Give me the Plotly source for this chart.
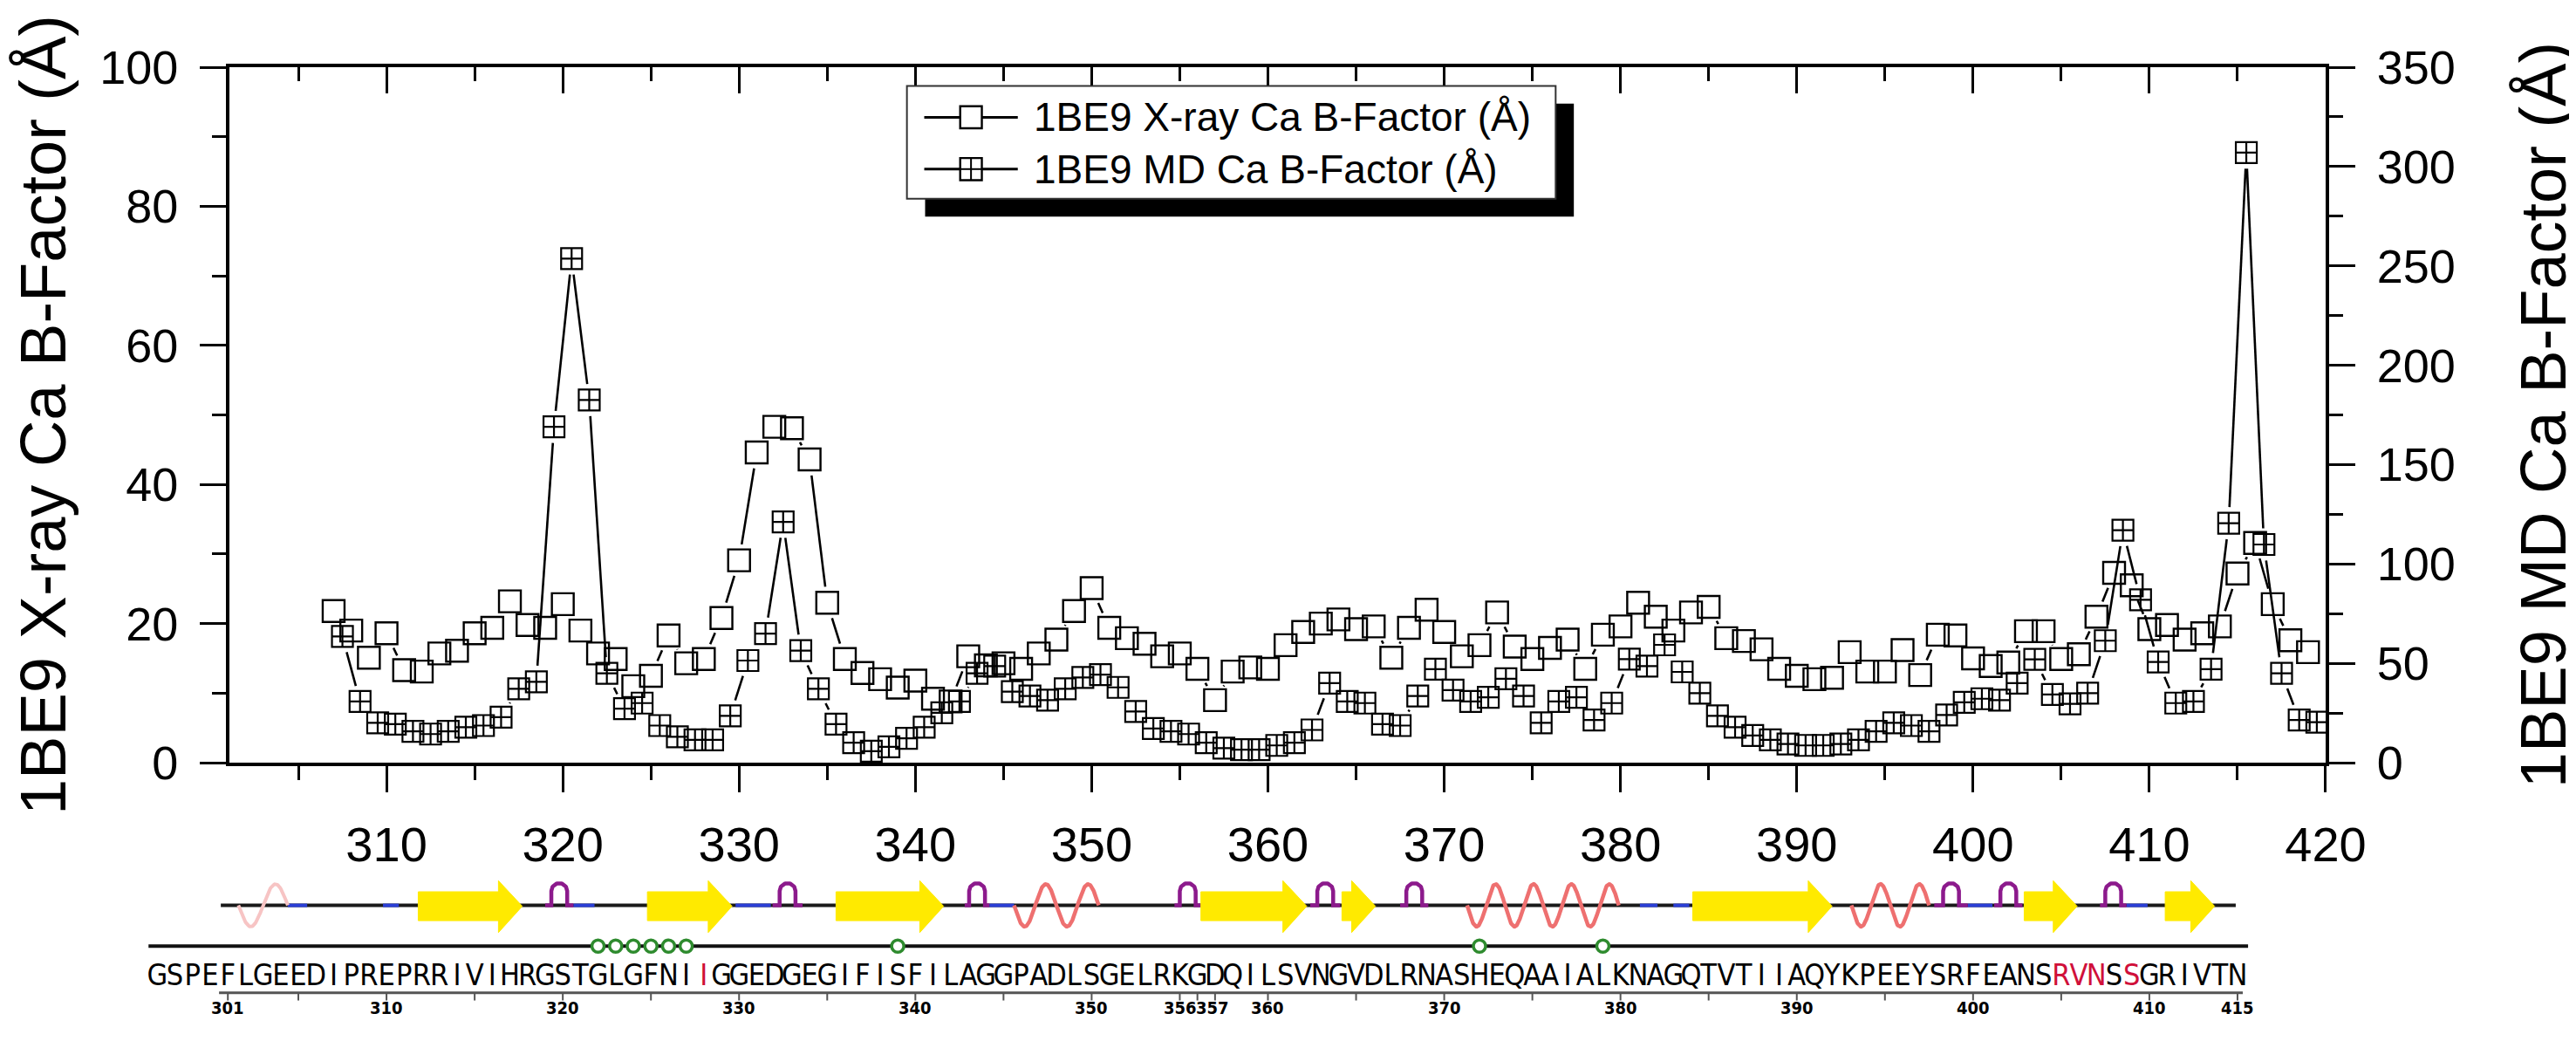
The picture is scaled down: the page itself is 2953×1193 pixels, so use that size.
import math
import numpy as np
import plotly.graph_objects as go

# ---------------- data ----------------
residues = list(range(307, 420))
xray_b = [21.8, 19.0, 15.1, 18.6, 13.3, 13.1, 15.7, 16.1, 18.6, 19.4,   # 307-316
          23.2, 19.8, 19.4, 22.8, 19.0, 15.7, 14.9, 11.0, 12.5, 18.3,   # 317-326
          14.3, 14.9, 20.8, 29.1, 44.6, 48.3, 48.1, 43.6, 23.0, 14.9,   # 327-336
          12.9, 12.0, 10.8, 11.8, 9.2, 8.8, 15.3, 14.0, 14.3, 13.5,     # 337-346
          15.7, 17.7, 21.8, 25.1, 19.4, 17.9, 17.1, 15.3, 15.7, 13.5,   # 347-356
          9.0, 13.1, 13.7, 13.5, 16.9, 18.8, 20.0, 20.6, 19.2, 19.6,    # 357-366
          15.1, 19.4, 22.0, 18.8, 15.3, 16.9, 21.6, 16.7, 14.9, 16.5,   # 367-376
          17.7, 13.5, 18.4, 19.6, 23.0, 21.0, 19.0, 21.6, 22.4, 17.9,   # 377-386
          17.5, 16.3, 13.5, 12.5, 12.0, 12.2, 15.9, 13.1, 13.1, 16.2,   # 387-396
          12.6, 18.4, 18.3, 15.0, 13.9, 14.4, 18.9, 18.9, 14.9, 15.6,   # 397-406
          21.0, 27.3, 25.5, 19.2, 19.8, 17.7, 18.6, 19.6, 27.2, 31.6,   # 407-416
          22.8, 17.6, 15.9]                                             # 417-419

md_residues = [r + 0.5 for r in residues]
md_b = [63.5, 30.8, 20.1, 19.4, 15.8, 14.4, 15.8, 17.9, 18.7, 22.9,
        37.2, 40.7, 169.0, 253.7, 182.5, 45.0, 27.2, 30.0, 18.7, 13.0,
        11.5, 11.5, 23.6, 51.4, 65.0, 121.2, 56.4, 37.2, 19.4, 10.1,
        5.8, 8.0, 12.3, 17.9, 25.1, 30.8, 45.0, 48.6, 35.8, 33.6,
        31.5, 37.2, 42.9, 44.3, 37.9, 25.8, 17.2, 15.8, 14.4, 10.1,
        7.3, 6.6, 6.6, 8.7, 10.1, 16.5, 40.0, 30.8, 30.0, 19.4,
        18.7, 33.6, 47.1, 36.5, 30.8, 32.9, 42.2, 33.6, 20.1, 30.8,
        32.9, 21.5, 30.0, 52.1, 48.6, 59.3, 45.7, 35.0, 23.6, 17.9,
        13.7, 11.5, 9.4, 8.7, 8.7, 9.4, 11.5, 15.8, 20.1, 18.7,
        15.8, 24.0, 30.4, 32.2, 31.5, 40.0, 52.0, 34.3, 29.6, 35.0,
        61.4, 117.0, 82.0, 50.7, 30.0, 30.8, 47.1, 120.5, 307.0, 109.8,
        45.0, 21.5, 20.4]

xray_name = "1BE9 X-ray Ca B-Factor (Å)"
md_name = "1BE9 MD Ca B-Factor (Å)"

x_tick_vals = list(range(310, 421, 10))
left_tick_vals = [0, 20, 40, 60, 80, 100]
right_tick_vals = [0, 50, 100, 150, 200, 250, 300, 350]

# sequence / secondary-structure strip
seq_chunks = ["GSPEFLGEED", "IPREPRRIVI", "HRGSTGLGFN", "IIGGEDGEGI",
              "FISFILAGGP", "ADLSGELRKG", "DQILSVNGVD", "LRNASHEQAA",
              "IALKNAGQTV", "TIIAQYKPEE", "YSRFEANSRV", "NSSGRIVTN"]
sequence = "".join(seq_chunks)
seq_first_residue = 297
red_residues = [328, 405, 406, 407, 409]
backbone_span = (300.6, 414.9)
contact_line_span = (296.5, 415.6)
strands = [(311.8, 317.7), (324.8, 329.6), (335.5, 341.6), (356.2, 362.2),
           (364.2, 366.1), (384.1, 392.0), (402.9, 405.9), (410.9, 413.7)]
helices = [(345.6, 350.4), (371.3, 379.9), (393.1, 397.5)]
faint_helices = [(301.6, 304.4)]
turns = [(319.0, 320.6), (331.9, 333.6), (342.8, 344.2), (354.7, 356.2),
         (362.4, 364.1), (367.5, 369.1), (397.8, 399.7), (401.2, 402.8),
         (407.2, 408.7)]
blue_segments = [(304.4, 305.5), (309.8, 310.7), (320.6, 321.8), (329.8, 331.8),
                 (344.2, 345.6), (381.1, 382.1), (383.0, 383.9), (399.7, 401.1),
                 (408.7, 409.9)]
binding_residues = [322, 323, 324, 325, 326, 327, 339, 372, 379]
ruler_span = (300.5, 415.3)
ruler_ticks = list(range(305, 416, 5)) + [301, 356, 357]
ruler_labels = [301, 310, 320, 330, 340, 350, 356, 357, 360, 370, 380, 390, 400, 410, 415]
ruler_label_shift = {356: -20, 357: -3}

# ---------------- geometry / style ----------------
W, H = 2953, 1193          # reference picture size
PAGE_OFF = 4               # small allowance for the html page offset
ML, MR, MT, MB = 150, 273, 73, 0   # in reference pixels
PW, PH = W - ML - MR, H - MT - MB
AX_L, AX_R, AX_T, AX_B = 260, 2680, 73, 892
X_RANGE = [301.1, 420]
Y_RANGE = [0, 100]
Y2_RANGE = [0, 350]
sx = (AX_R - AX_L) / (X_RANGE[1] - X_RANGE[0])
sy_left = (AX_B - AX_T) / (Y_RANGE[1] - Y_RANGE[0])
sy_right = (AX_B - AX_T) / (Y2_RANGE[1] - Y2_RANGE[0])
x_dom0 = (AX_L - ML) / PW
y_dom0 = (H - MB - AX_B) / PH
STRIP_TOP = 1000
strip_dom1 = (H - MB - STRIP_TOP) / PH
x3_lo = X_RANGE[0] - (AX_L - ML) / sx

FONT = "Liberation Sans, Arial, sans-serif"
NARROW = "Liberation Sans Narrow, Arial Narrow, DejaVu Sans Condensed, Liberation Sans, sans-serif"
BACK_Y = 1060
CONTACT_Y = 1108
SEQ_Y = 1145
RULER_Y = 1163
RULER_LABEL_Y = 1181
GAP = 19  # px gap between line and symbol


def px2paper_x(p):
    return (p - ML) / PW


def px2paper_y(p):
    return (H - MB - p) / PH


def gapped(xs, ys, sy, gap=GAP):
    ox, oy = [], []
    for i in range(len(xs) - 1):
        x0, y0, x1, y1 = xs[i], ys[i], xs[i + 1], ys[i + 1]
        dx, dy = (x1 - x0) * sx, (y1 - y0) * sy
        L = math.hypot(dx, dy)
        if L <= 2 * gap:
            continue
        f = gap / L
        ox += [x0 + (x1 - x0) * f, x1 - (x1 - x0) * f, None]
        oy += [y0 + (y1 - y0) * f, y1 - (y1 - y0) * f, None]
    return ox, oy


fig = go.Figure()

# ---- main data ----
lx, ly = gapped(residues, xray_b, sy_left)
fig.add_trace(go.Scatter(x=lx, y=ly, mode="lines", line=dict(color="black", width=2.6),
                         xaxis="x", yaxis="y", hoverinfo="skip", showlegend=False))
mx, my = gapped(md_residues, md_b, sy_right)
fig.add_trace(go.Scatter(x=mx, y=my, mode="lines", line=dict(color="black", width=2.6),
                         xaxis="x", yaxis="y2", hoverinfo="skip", showlegend=False))
fig.add_trace(go.Scatter(x=residues, y=xray_b, mode="markers", name=xray_name,
                         marker=dict(symbol="square-open", size=25, color="black",
                                     line=dict(width=2.4, color="black")),
                         xaxis="x", yaxis="y", showlegend=False))
fig.add_trace(go.Scatter(x=md_residues, y=md_b, mode="markers", name=md_name,
                         marker=dict(symbol="square-cross-open", size=24, color="black",
                                     line=dict(width=2.2, color="black")),
                         xaxis="x", yaxis="y2", showlegend=False))
# dummy trace so that the top mirror axis is drawn
fig.add_trace(go.Scatter(x=[X_RANGE[0]], y=[None], mode="markers", xaxis="x2", yaxis="y",
                         hoverinfo="skip", showlegend=False, marker=dict(opacity=0)))

# ---- secondary structure strip (x3 / y3) ----
strip = dict(xaxis="x3", yaxis="y3", hoverinfo="skip", showlegend=False)

fig.add_trace(go.Scatter(x=list(backbone_span), y=[BACK_Y, BACK_Y], mode="lines",
                         line=dict(color="#1a1a1a", width=4), **strip))
bx, by = [], []
for a, b in blue_segments:
    bx += [a, b, None]
    by += [BACK_Y, BACK_Y, None]
fig.add_trace(go.Scatter(x=bx, y=by, mode="lines", line=dict(color="#2b3fd6", width=4), **strip))


def wave(spans):
    xs, ys = [], []
    for a, b in spans:
        n = max(1, round((b - a) / 2.2))
        t = np.linspace(0, 1, 80 * n)
        xs += list(a + (b - a) * t) + [None]
        ys += list(BACK_Y + 25 * np.sin(2 * np.pi * n * t)) + [None]
    return xs, ys


hx, hy = wave(faint_helices)
fig.add_trace(go.Scatter(x=hx, y=hy, mode="lines", line=dict(color="#f7c4c4", width=4), **strip))
hx, hy = wave(helices)
fig.add_trace(go.Scatter(x=hx, y=hy, mode="lines", line=dict(color="#ee7070", width=4.5), **strip))

tx, ty = [], []
for a, b in turns:
    c = 0.5 * (a + b)
    hw = 0.45
    r_px = hw * sx
    top_c = BACK_Y - 26 + r_px
    th = np.linspace(0, np.pi, 30)
    tx += [a, c - hw, c - hw] + list(c - hw * np.cos(th)) + [c + hw, c + hw, b, None]
    ty += [BACK_Y, BACK_Y, top_c] + list(top_c - r_px * np.sin(th)) + [top_c, BACK_Y, BACK_Y, None]
fig.add_trace(go.Scatter(x=tx, y=ty, mode="lines", line=dict(color="#8c1a8c", width=4.5), **strip))

ax_, ay_ = [], []
HEAD = 1.35
for a, b in strands:
    hs = b - HEAD
    ax_ += [a, hs, hs, b, hs, hs, a, a, None]
    ay_ += [BACK_Y - 16, BACK_Y - 16, BACK_Y - 29, BACK_Y + 1, BACK_Y + 32,
            BACK_Y + 18, BACK_Y + 18, BACK_Y - 16, None]
fig.add_trace(go.Scatter(x=ax_, y=ay_, mode="lines", fill="toself", fillcolor="#ffea00",
                         line=dict(color="#ffea00", width=1), **strip))

fig.add_trace(go.Scatter(x=list(contact_line_span), y=[CONTACT_Y, CONTACT_Y], mode="lines",
                         line=dict(color="#111111", width=4), **strip))
fig.add_trace(go.Scatter(x=binding_residues, y=[CONTACT_Y] * len(binding_residues), mode="markers",
                         marker=dict(symbol="circle", size=14, color="white",
                                     line=dict(color="#2e8b2e", width=3.5)), **strip))

seq_x = [seq_first_residue + i for i in range(len(sequence))]
seq_col = ["#d0103a" if r in red_residues else "black" for r in seq_x]
fig.add_trace(go.Scatter(x=seq_x, y=[SEQ_Y] * len(seq_x), mode="text", text=list(sequence),
                         textfont=dict(family=NARROW, size=34, color=seq_col),
                         textposition="middle center", cliponaxis=False, **strip))

fig.add_trace(go.Scatter(x=list(ruler_span), y=[RULER_Y, RULER_Y], mode="lines",
                         line=dict(color="#555555", width=3), **strip))
rx, ry = [], []
for t in ruler_ticks:
    rx += [t, t, None]
    ry += [RULER_Y, RULER_Y + 9, None]
fig.add_trace(go.Scatter(x=rx, y=ry, mode="lines", line=dict(color="#555555", width=2), **strip))

annotations = []
for lab in ruler_labels:
    annotations.append(dict(x=lab, y=RULER_LABEL_Y, xref="x3", yref="y3", text="<b>%d</b>" % lab,
                            showarrow=False, xanchor="center", yanchor="middle",
                            xshift=ruler_label_shift.get(lab, 0),
                            font=dict(family=NARROW, size=20, color="black")))

# ---- manual legend (Origin style box with drop shadow) ----
LEG_L, LEG_R, LEG_T, LEG_B = 1042, 1791, 95, 228
SH = 21
shapes = [
    dict(type="rect", xref="paper", yref="paper", x0=px2paper_x(LEG_L + SH), x1=px2paper_x(LEG_R + SH),
         y0=px2paper_y(LEG_T + SH), y1=px2paper_y(LEG_B + SH), fillcolor="black",
         line=dict(width=0), layer="above"),
    dict(type="rect", xref="paper", yref="paper", x0=px2paper_x(LEG_L), x1=px2paper_x(LEG_R),
         y0=px2paper_y(LEG_T), y1=px2paper_y(LEG_B), fillcolor="white",
         line=dict(color="#333333", width=2), layer="above"),
]
rows = [(132, xray_name, False), (193, md_name, True)]
S_L, S_R, S_C, S_HALF = 1062, 1170, 1116, 12.5
for yrow, label, cross in rows:
    for xa, xb in [(S_L, S_C - S_HALF), (S_C + S_HALF, S_R)]:
        shapes.append(dict(type="line", xref="paper", yref="paper", x0=px2paper_x(xa), x1=px2paper_x(xb),
                           y0=px2paper_y(yrow), y1=px2paper_y(yrow), line=dict(color="black", width=3),
                           layer="above"))
    shapes.append(dict(type="rect", xref="paper", yref="paper",
                       x0=px2paper_x(S_C - S_HALF), x1=px2paper_x(S_C + S_HALF),
                       y0=px2paper_y(yrow - 13), y1=px2paper_y(yrow + 13),
                       line=dict(color="black", width=2.4), fillcolor="rgba(0,0,0,0)", layer="above"))
    if cross:
        shapes.append(dict(type="line", xref="paper", yref="paper", x0=px2paper_x(S_C), x1=px2paper_x(S_C),
                           y0=px2paper_y(yrow - 13), y1=px2paper_y(yrow + 13),
                           line=dict(color="black", width=2), layer="above"))
        shapes.append(dict(type="line", xref="paper", yref="paper", x0=px2paper_x(S_C - S_HALF),
                           x1=px2paper_x(S_C + S_HALF), y0=px2paper_y(yrow), y1=px2paper_y(yrow),
                           line=dict(color="black", width=2), layer="above"))
    annotations.append(dict(x=px2paper_x(1186), y=px2paper_y(yrow), xref="paper", yref="paper",
                            text=label, showarrow=False, xanchor="left", yanchor="middle",
                            font=dict(family=FONT, size=46, color="black")))

axis_common = dict(showgrid=False, zeroline=False, showline=True, linecolor="black", linewidth=4,
                   tickcolor="black", tickwidth=3, ticklen=30)

fig.update_layout(
    width=W - PAGE_OFF, height=H - PAGE_OFF,
    margin=dict(l=ML - PAGE_OFF, r=MR, t=MT - PAGE_OFF, b=MB, pad=0),
    paper_bgcolor="white", plot_bgcolor="white",
    showlegend=False,
    font=dict(family=FONT, color="black"),
    xaxis=dict(domain=[x_dom0, 1], range=X_RANGE, anchor="y", tickmode="array", tickvals=x_tick_vals,
               ticks="outside", tickfont=dict(size=56, family=FONT), ticklabelstandoff=12,
               minor=dict(dtick=5, tick0=300, ticks="outside", ticklen=16, tickwidth=3,
                          tickcolor="black", showgrid=False),
               **axis_common),
    xaxis2=dict(domain=[x_dom0, 1], range=X_RANGE, anchor="y", overlaying="x", side="top",
                tickmode="array", tickvals=x_tick_vals, ticks="inside", showticklabels=False,
                minor=dict(dtick=5, tick0=300, ticks="inside", ticklen=16, tickwidth=3,
                           tickcolor="black", showgrid=False),
                **axis_common),
    yaxis=dict(domain=[y_dom0, 1], range=Y_RANGE, anchor="x", tickmode="array", tickvals=left_tick_vals,
               ticks="outside", tickfont=dict(size=54, family=FONT), ticklabelstandoff=14,
               minor=dict(dtick=10, tick0=0, ticks="outside", ticklen=16, tickwidth=3,
                          tickcolor="black", showgrid=False),
               title=dict(text=xray_name, font=dict(size=74, family=FONT), standoff=28),
               **axis_common),
    yaxis2=dict(range=Y2_RANGE, anchor="x", overlaying="y", side="right", tickmode="array",
                tickvals=right_tick_vals, ticks="outside", tickfont=dict(size=54, family=FONT),
                ticklabelstandoff=14,
                minor=dict(dtick=25, tick0=0, ticks="outside", ticklen=16, tickwidth=3,
                           tickcolor="black", showgrid=False),
                title=dict(text=md_name, font=dict(size=74, family=FONT), standoff=90),
                **axis_common),
    xaxis3=dict(domain=[0, 1], range=[x3_lo, X_RANGE[1]], anchor="y3", visible=False,
                showgrid=False, zeroline=False),
    yaxis3=dict(domain=[0, strip_dom1], range=[H, STRIP_TOP], anchor="x3", visible=False,
                showgrid=False, zeroline=False),
    shapes=shapes,
    annotations=annotations,
)

fig.write_html("out.html")
